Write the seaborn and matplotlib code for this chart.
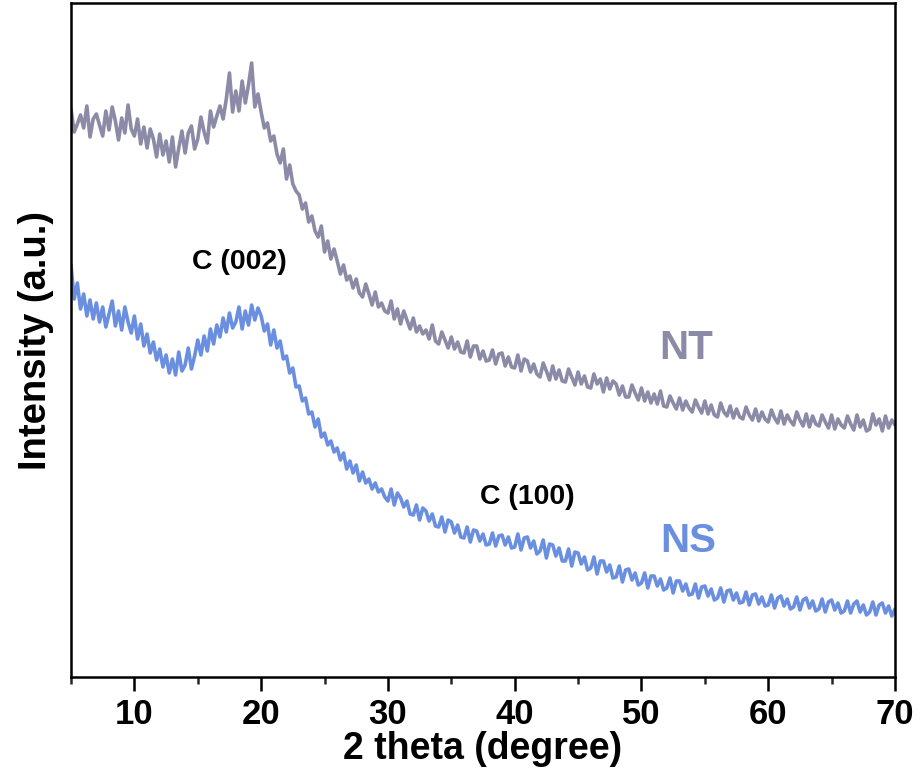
import numpy as np
import pandas as pd
import matplotlib
matplotlib.use("Agg")
import matplotlib.pyplot as plt
import seaborn as sns
from matplotlib.ticker import MultipleLocator

two_theta = [5 + 0.25 * i for i in range(261)]

nt_intensity = [
    568, 545, 553, 562, 549, 571, 540, 558, 563, 552, 541, 566, 547, 570, 556, 537,
    559, 544, 572, 548, 541, 558, 533, 550, 529, 548, 538, 520, 543, 522, 536, 515,
    540, 510, 529, 546, 524, 544, 551, 528, 538, 560, 545, 534, 566, 550, 561, 571,
    558, 578, 604, 565, 586, 566, 596, 574, 592, 614, 570, 583, 565, 549, 554, 536,
    541, 523, 514, 528, 498, 512, 493, 486, 482, 468, 474, 455, 461, 446, 440, 451,
    425, 436, 418, 428, 416, 403, 412, 397, 401, 389, 398, 384, 380, 393, 383, 372,
    385, 370, 374, 366, 364, 376, 358, 368, 353, 366, 357, 348, 359, 345, 351, 343,
    347, 338, 352, 336, 333, 345, 337, 329, 340, 328, 335, 325, 324, 336, 320, 331,
    331, 318, 326, 316, 317, 327, 313, 323, 324, 311, 320, 310, 309, 322, 306, 318,
    316, 305, 313, 303, 300, 314, 306, 297, 311, 298, 307, 296, 295, 308, 300, 292,
    305, 293, 301, 290, 289, 303, 293, 298, 285, 299, 288, 296, 293, 282, 291, 280,
    280, 292, 284, 277, 289, 276, 285, 274, 283, 273, 286, 271, 270, 281, 274, 268,
    279, 267, 276, 269, 265, 277, 270, 264, 276, 263, 272, 262, 260, 274, 265, 261,
    271, 259, 268, 260, 258, 270, 262, 257, 268, 256, 265, 258, 255, 267, 259, 254,
    266, 253, 262, 256, 252, 265, 257, 251, 263, 250, 261, 253, 251, 262, 255, 249,
    262, 248, 258, 252, 249, 261, 253, 247, 262, 250, 257, 246, 248, 263, 252, 258,
    246, 261, 249, 257, 252,
]

ns_intensity = [
    412, 378, 394, 368, 383, 361, 377, 358, 374, 355, 370, 350, 363, 376, 351, 366,
    347, 370, 355, 344, 361, 338, 353, 331, 343, 324, 335, 317, 328, 310, 322, 304,
    318, 302, 325, 306, 312, 329, 308, 321, 337, 322, 341, 326, 348, 333, 352, 340,
    359, 345, 364, 349, 355, 370, 348, 366, 352, 372, 357, 369, 361, 346, 353, 332,
    347, 329, 336, 318, 321, 304, 309, 290, 291, 276, 279, 263, 265, 250, 258, 240,
    244, 232, 236, 225, 229, 217, 224, 208, 216, 204, 212, 196, 205, 194, 198, 188,
    194, 185, 188, 180, 176, 188, 172, 184, 179, 170, 176, 163, 162, 172, 157, 169,
    166, 156, 163, 151, 150, 160, 145, 157, 155, 144, 152, 140, 139, 150, 135, 147,
    146, 136, 143, 132, 133, 144, 131, 141, 142, 132, 140, 129, 130, 143, 127, 139,
    140, 129, 136, 123, 126, 137, 119, 133, 132, 121, 129, 116, 116, 128, 111, 125,
    124, 113, 120, 107, 109, 120, 103, 116, 116, 105, 112, 99, 100, 111, 95, 107,
    108, 97, 104, 92, 94, 104, 89, 101, 101, 91, 98, 87, 89, 99, 84, 96,
    96, 86, 93, 82, 83, 93, 79, 90, 91, 81, 88, 77, 79, 89, 75, 86,
    87, 77, 84, 74, 75, 85, 72, 82, 83, 73, 80, 71, 72, 82, 69, 79,
    81, 71, 78, 68, 70, 80, 67, 77, 79, 69, 76, 66, 68, 78, 65, 75,
    77, 67, 74, 64, 66, 76, 64, 73, 76, 65, 72, 62, 65, 75, 62, 72,
    74, 64, 71, 61, 68,
]

series_names = ["NT", "NS"]
peak_labels = ["C (002)", "C (100)"]
x_ticks = [10, 20, 30, 40, 50, 60, 70]

NT_COLOR = "#8b8ba8"
NS_COLOR = "#6b8fe0"

df = pd.DataFrame({
    "two_theta": two_theta * 2,
    "intensity": nt_intensity + ns_intensity,
    "sample": ["NT"] * len(nt_intensity) + ["NS"] * len(ns_intensity),
})

sns.set_style("ticks")
plt.rcParams["font.family"] = ["Liberation Sans", "DejaVu Sans"]
plt.rcParams["font.weight"] = "bold"

fig = plt.figure(figsize=(9.22, 7.76), dpi=100)
ax = fig.add_axes([71 / 922, 1 - 677 / 776, (895 - 71) / 922, (677 - 3) / 776])

sns.lineplot(data=df, x="two_theta", y="intensity", hue="sample",
             palette={"NT": NT_COLOR, "NS": NS_COLOR}, linewidth=2.6,
             legend=False, ax=ax, estimator=None, sort=False)

ax.set_xlim(5, 70)
ax.set_ylim(0, 674)
ax.set_xticks(x_ticks)
ax.xaxis.set_minor_locator(MultipleLocator(5))
ax.set_yticks([])
ax.tick_params(axis="x", which="major", length=10, width=1.8, direction="out",
               labelsize=25, pad=5, colors="black")
ax.tick_params(axis="x", which="minor", length=5, width=1.8, direction="out")
for lab in ax.get_xticklabels():
    lab.set_fontweight("bold")
for sp in ax.spines.values():
    sp.set_linewidth(1.8)
    sp.set_color("black")

ax.set_xlabel("2 theta (degree)", fontsize=27, fontweight="bold", labelpad=0,
              color="black")
ax.set_ylabel("Intensity (a.u.)", fontsize=27.5, fontweight="bold", labelpad=12,
              color="black")

ax.text(18.3, 415, peak_labels[0], fontsize=20.5, fontweight="bold",
        ha="center", va="center", color="black")
ax.text(41.0, 180, peak_labels[1], fontsize=20.5, fontweight="bold",
        ha="center", va="center", color="black")
ax.text(53.5, 329, series_names[0], fontsize=29, fontweight="bold",
        ha="center", va="center", color=NT_COLOR)
ax.text(53.7, 136, series_names[1], fontsize=29, fontweight="bold",
        ha="center", va="center", color=NS_COLOR)

fig.savefig("out.png", dpi=100)
